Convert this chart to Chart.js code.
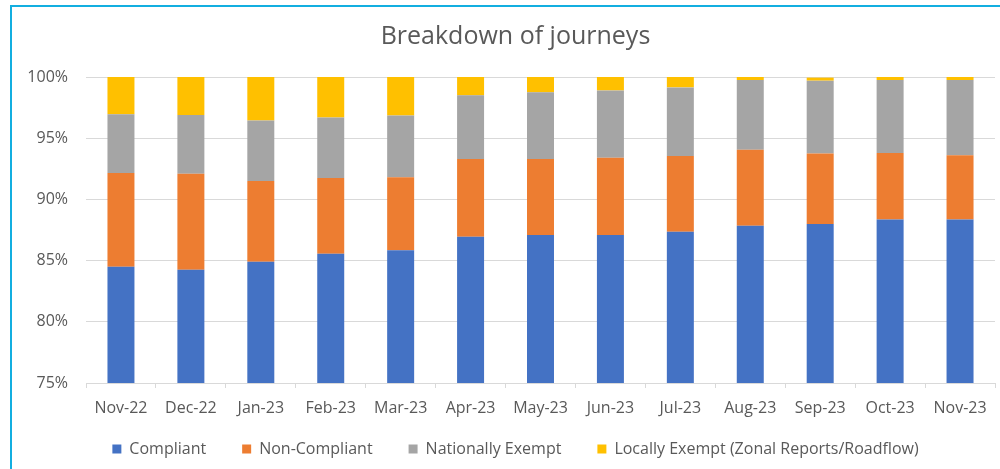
<!DOCTYPE html>
<html>
<head>
<meta charset="utf-8">
<script src="https://cdn.jsdelivr.net/npm/chart.js@4"></script>
<style>
  html, body { margin: 0; padding: 0; background: #fff; overflow: hidden; }
  #frame {
    position: absolute; left: 10px; top: 5px;
    width: 988px; height: 462px;
    border-left: 2px solid #13aee0;
    border-top: 2px solid #13aee0;
  }
</style>
</head>
<body>
<div id="frame"><canvas id="journeysChart"></canvas></div>
<script>
const months = ['Nov-22', 'Dec-22', 'Jan-23', 'Feb-23', 'Mar-23', 'Apr-23', 'May-23',
                'Jun-23', 'Jul-23', 'Aug-23', 'Sep-23', 'Oct-23', 'Nov-23'];
// percentages of journeys
const compliant        = [84.5, 84.25, 84.9, 85.55, 85.85, 86.95, 87.1, 87.1, 87.35, 87.85, 88.0, 88.35, 88.35];
const nonCompliant     = [7.65, 7.85, 6.6, 6.2, 5.95, 6.35, 6.2, 6.3, 6.2, 6.2, 5.75, 5.45, 5.25];
const nationallyExempt = [4.8, 4.8, 4.95, 4.95, 5.05, 5.2, 5.45, 5.5, 5.6, 5.7, 5.95, 5.95, 6.15];
const locallyExempt    = [3.05, 3.1, 3.55, 3.3, 3.15, 1.5, 1.25, 1.1, 0.85, 0.25, 0.25, 0.25, 0.25];

Chart.defaults.font.family = 'Open Sans';
Chart.defaults.font.size = 16;
Chart.defaults.color = '#595959';

// axes are squeezed to place title/legend like the original; let tick labels draw past their boxes
const unclipTicks = {
    id: 'unclipTicks',
    afterLayout(chart) {
        chart.scales.x.bottom = chart.height;
        chart.scales.y.left = 0;
    }
};

const ctx = document.getElementById('journeysChart').getContext('2d');

new Chart(ctx, {
    type: 'bar',
    data: {
        labels: months,
        datasets: [
            { label: 'Compliant', data: compliant, backgroundColor: '#4472c4' },
            { label: 'Non-Compliant', data: nonCompliant, backgroundColor: '#ed7d31' },
            { label: 'Nationally Exempt', data: nationallyExempt, backgroundColor: '#a5a5a5' },
            { label: 'Locally Exempt (Zonal Reports/Roadflow)', data: locallyExempt, backgroundColor: '#ffc000' }
        ]
    },
    plugins: [unclipTicks],
    options: {
        responsive: true,
        maintainAspectRatio: false,
        animation: false,
        datasets: {
            bar: { categoryPercentage: 1, barPercentage: 0.386 }
        },
        layout: { padding: { left: 24, right: 5, top: 0, bottom: 2 } },
        plugins: {
            title: {
                display: true,
                text: 'Breakdown of journeys',
                color: '#595959',
                font: { size: 25, weight: 'normal' },
                padding: { top: 15, bottom: 25 }
            },
            legend: {
                position: 'bottom',
                labels: {
                    boxWidth: 9,
                    boxHeight: 9,
                    padding: 36,
                    color: '#595959',
                    font: { size: 16 }
                }
            },
            tooltip: { enabled: false }
        },
        scales: {
            x: {
                stacked: true,
                grid: {
                    drawOnChartArea: false,
                    drawTicks: true,
                    tickLength: 5,
                    color: '#d9d9d9'
                },
                border: { color: '#d9d9d9' },
                ticks: { padding: 11, maxRotation: 0, autoSkip: false },
                afterFit: (scale) => { scale.height = 22; }
            },
            y: {
                stacked: true,
                min: 75,
                max: 100,
                grid: { color: '#d9d9d9', drawTicks: false },
                border: { display: false },
                ticks: {
                    stepSize: 5,
                    padding: 18,
                    callback: (v) => v + '%'
                },
                afterFit: (scale) => { scale.width = 50; }
            }
        }
    }
});
</script>
</body>
</html>
